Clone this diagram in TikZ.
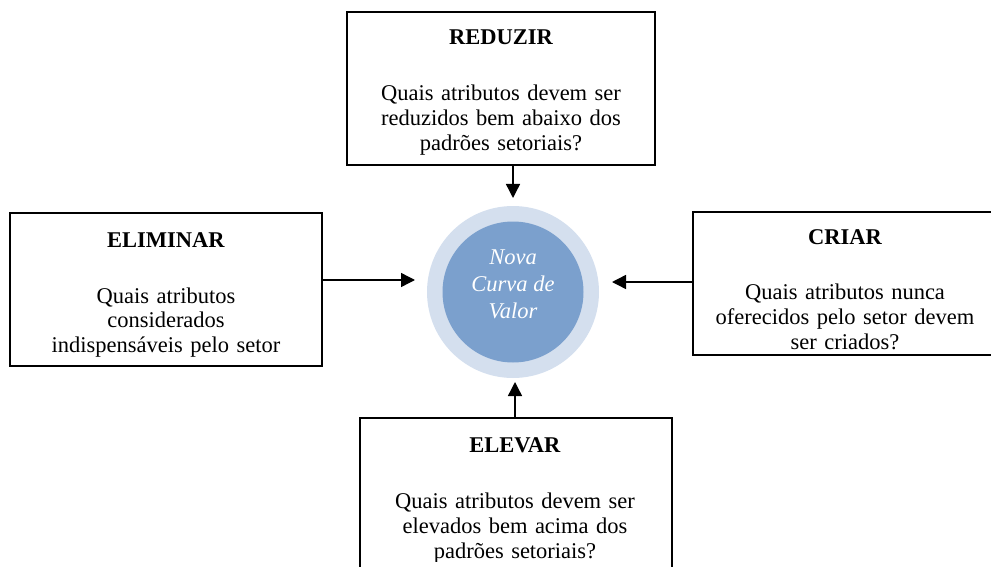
\documentclass[tikz,border=0pt]{standalone}
\usepackage{fontspec}
\setmainfont{Liberation Serif}
\usetikzlibrary{arrows.meta,positioning}
\definecolor{anelazul}{HTML}{D4DFEE}
\definecolor{miolo}{HTML}{7BA0CD}

\begin{document}
\begin{tikzpicture}
[
x=1pt, y=-1pt,
caixa/.style={draw, line width=1.3pt, minimum height=153pt, inner sep=0pt},
texto/.style={text width=304pt, align=center, anchor=base, inner sep=0pt, font=\fontsize{22.5}{25}\selectfont},
seta/.style={line width=1.4pt, -{Triangle[length=14pt,width=14pt]}},
]
\useasboundingbox (0,0) rectangle (991,567);

% as quatro acoes
\node[caixa, minimum width=308pt] (reduzir) at (501,88.5) {};
\node[caixa, minimum width=312pt] (eliminar) at (166,289.5) {};
\node[caixa, minimum width=307pt, minimum height=143pt] (criar) at (846.5,283.5) {};
\node[caixa, minimum width=312pt] (elevar) at (516,494.5) {};

\begin{scope}
\clip ([yshift=10pt]reduzir.south west) rectangle (reduzir.north east);
\node[texto] (reduzirtxt) at (501,45) {\textbf{REDUZIR}\\[31pt]Quais atributos devem ser\\reduzidos bem abaixo dos\\padrões setoriais?};
\end{scope}
\begin{scope}
\clip ([yshift=10pt]eliminar.south west) rectangle (eliminar.north east);
\node[texto] (eliminartxt) at (166,247) {\textbf{ELIMINAR}\\[31pt]Quais atributos\\considerados\\indispensáveis pelo setor};
\end{scope}
\begin{scope}
\clip ([yshift=6pt]criar.south west) rectangle (criar.north east);
\node[texto] (criartxt) at (845,244) {\textbf{CRIAR}\\[30pt]Quais atributos nunca\\oferecidos pelo setor devem\\ser criados?};
\end{scope}
\begin{scope}
\clip ([yshift=10pt]elevar.south west) rectangle (elevar.north east);
\node[texto] (elevartxt) at (515,452) {\textbf{ELEVAR}\\[31pt]Quais atributos devem ser\\elevados bem acima dos\\padrões setoriais?};
\end{scope}

% circulo central
\node[circle, fill=anelazul, minimum size=172pt, inner sep=0pt] (anel) at (513,292) {};
\node[circle, fill=miolo, minimum size=141pt, inner sep=0pt] (valor) at (anel.center) {};
\node[text=white, align=center, inner sep=0pt, font=\itshape\fontsize{22.5}{27}\selectfont] (valortxt) at (513,284.5) {Nova\\Curva de\\Valor};

% setas
\coordinate (pontaC) at (513,198);
\coordinate (pontaE) at (415,280);
\coordinate (pontaD) at (612,282);
\coordinate (pontaB) at (515,382);
\draw[seta] (reduzir.south -| pontaC) -- (pontaC);
\draw[seta] (eliminar.east |- pontaE) -- (pontaE);
\draw[seta] (criar.west |- pontaD) -- (pontaD);
\draw[seta] (elevar.north -| pontaB) -- (pontaB);
\end{tikzpicture}
\end{document}
